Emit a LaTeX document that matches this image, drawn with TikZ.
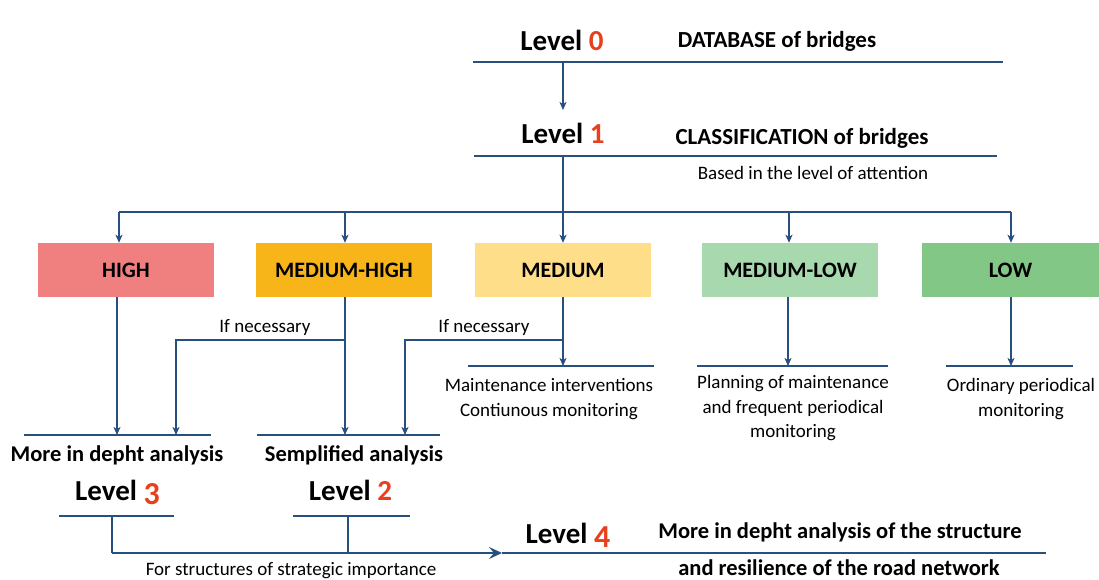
\documentclass[tikz,border=0pt]{standalone}
\usepackage{fontspec}
\setmainfont{Carlito}
\usetikzlibrary{arrows.meta}
\definecolor{ln}{HTML}{28507F}
\definecolor{lvred}{HTML}{E8401C}
\definecolor{cHigh}{HTML}{F08080}
\definecolor{cMedHigh}{HTML}{F7B519}
\definecolor{cMed}{HTML}{FFDE8A}
\definecolor{cMedLow}{HTML}{A8D8AD}
\definecolor{cLow}{HTML}{82C785}
\begin{document}
\begin{tikzpicture}[x=1pt,y=-1pt,
 conn/.style={draw=ln, line width=1.3pt},
 arr/.style={conn, -{Stealth[length=8pt,width=7pt,inset=2pt]}},
 bigarr/.style={conn, -{Stealth[length=13pt,width=12pt,inset=5pt]}},
 lvl/.style={font=\fontsize{29}{32}\selectfont\bfseries, inner sep=0pt, anchor=base},
 head/.style={font=\fontsize{23}{26}\selectfont\bfseries, inner sep=0pt, anchor=base},
 subhead/.style={font=\fontsize{22.5}{26}\selectfont\bfseries, inner sep=0pt, anchor=base},
 body/.style={font=\fontsize{19}{24}\selectfont, inner sep=0pt, anchor=base},
 catbox/.style={minimum height=54pt, inner sep=0pt, font=\fontsize{22}{24}\selectfont\bfseries},
]
\useasboundingbox[fill=white] (0,0) rectangle (1099,580);

% ---- Level 0 ----
\node[lvl] (lv0) at (562,51) {Level \textcolor{lvred}{0}};
\node[head] (db) at (777,48) {DATABASE of bridges};
\coordinate (l0a) at (473,62);
\coordinate (l0b) at (1003,62);
\draw[conn] (l0a) -- (l0b);
\coordinate (l0s) at (563,62);
\coordinate (l1t) at (563,110);
\draw[arr] (l0s) -- (l1t);

% ---- Level 1 ----
\node[lvl] (lv1) at (563,144) {Level \textcolor{lvred}{1}};
\node[head] (cls) at (802,145) {CLASSIFICATION of bridges};
\coordinate (l1a) at (474,156);
\coordinate (l1b) at (997,156);
\draw[conn] (l1a) -- (l1b);
\node[body] (based) at (813,179) {Based in the level of attention};

% ---- category boxes ----
\node[catbox, fill=cHigh, minimum width=176pt] (hi) at (126,270) {HIGH};
\node[catbox, fill=cMedHigh, minimum width=176pt] (mh) at (344,270) {MEDIUM-HIGH};
\node[catbox, fill=cMed, minimum width=176pt] (me) at (563,270) {MEDIUM};
\node[catbox, fill=cMedLow, minimum width=176pt] (ml) at (790,270) {MEDIUM-LOW};
\node[catbox, fill=cLow, minimum width=177pt] (lo) at (1010.5,270) {LOW};

% ---- bus ----
\coordinate (trk) at (563,156);
\coordinate (b1) at (119,212);
\coordinate (b2) at (345,212);
\coordinate (b3) at (563,212);
\coordinate (b4) at (789,212);
\coordinate (b5) at (1011,212);
\draw[conn] (trk) -- (b3);
\draw[conn] (b1) -- (b5);
\draw[arr] (b1) -- (b1 |- hi.north);
\draw[arr] (b2) -- (b2 |- mh.north);
\draw[arr] (b3) -- (b3 |- me.north);
\draw[arr] (b4) -- (b4 |- ml.north);
\draw[arr] (b5) -- (b5 |- lo.north);

% ---- HIGH / MEDIUM-HIGH / MEDIUM down to analyses ----
\coordinate (hd) at (117,435);
\coordinate (mhd) at (345,435);
\coordinate (mhj) at (345,340);
\coordinate (mhl) at (176,340);
\coordinate (mhld) at (176,435);
\coordinate (med) at (563,366);
\coordinate (mej) at (563,340);
\coordinate (mel) at (405,340);
\coordinate (meld) at (405,435);
\draw[arr] (hd |- hi.south) -- (hd);
\draw[arr] (mhd |- mh.south) -- (mhd);
\draw[arr] (mhj) -- (mhl) -- (mhld);
\draw[arr] (med |- me.south) -- (med);
\draw[arr] (mej) -- (mel) -- (meld);
\node[body] (ifn1) at (265,332) {If necessary};
\node[body] (ifn2) at (484,332) {If necessary};

\coordinate (mld) at (788,366);
\coordinate (lod) at (1011,366);
\draw[arr] (mld |- ml.south) -- (mld);
\draw[arr] (lod |- lo.south) -- (lod);

% ---- underlines y=366 ----
\coordinate (u1a) at (468,366); \coordinate (u1b) at (654,366);
\coordinate (u2a) at (697,366); \coordinate (u2b) at (888,366);
\coordinate (u3a) at (946,366); \coordinate (u3b) at (1073,366);
\draw[conn] (u1a) -- (u1b);
\draw[conn] (u2a) -- (u2b);
\draw[conn] (u3a) -- (u3b);
\node[body] (mt1) at (549,391) {Maintenance interventions};
\node[body] (mt2) at (549,416) {Contiunous monitoring};
\node[body] (pl1) at (793,388) {Planning of maintenance};
\node[body] (pl2) at (793,413) {and frequent periodical};
\node[body] (pl3) at (793,437) {monitoring};
\node[body] (or1) at (1021,391) {Ordinary periodical};
\node[body] (or2) at (1021,416) {monitoring};

% ---- analyses ----
\coordinate (a1a) at (24,435); \coordinate (a1b) at (211,435);
\coordinate (a2a) at (257,435); \coordinate (a2b) at (440,435);
\draw[conn] (a1a) -- (a1b);
\draw[conn] (a2a) -- (a2b);
\node[subhead] (mda) at (117,461) {More in depht analysis};
\node[subhead] (sa) at (354,461) {Semplified analysis};
\node[lvl] (lv3) at (117.5,500) {Level \textcolor{lvred}{\raisebox{-4pt}{\fontsize{32}{32}\selectfont 3}}};
\node[lvl] (lv2) at (350.5,500) {Level \textcolor{lvred}{2}};
\coordinate (l3a) at (59,516); \coordinate (l3b) at (174,516);
\coordinate (l2a) at (293,516); \coordinate (l2b) at (410,516);
\draw[conn] (l3a) -- (l3b);
\draw[conn] (l2a) -- (l2b);

% ---- to level 4 ----
\coordinate (v3t) at (112,516); \coordinate (v3b) at (112,553);
\coordinate (v2t) at (348,516); \coordinate (v2b) at (348,553);
\coordinate (tip) at (502,553);
\coordinate (l4e) at (1046,553);
\draw[conn] (v3t) -- (v3b);
\draw[conn] (v2t) -- (v2b);
\draw[conn] (tip) -- (l4e);
\draw[bigarr] (v3b) -- (tip);
\node[body] (strat) at (291,575) {For structures of strategic importance};
\node[lvl] (lv4) at (568,543) {Level \textcolor{lvred}{\raisebox{-4pt}{\fontsize{32}{32}\selectfont 4}}};
\node[subhead] (l4t1) at (840,538) {More in depht analysis of the structure};
\node[subhead] (l4t2) at (839,575) {and resilience of the road network};
\end{tikzpicture}
\end{document}
